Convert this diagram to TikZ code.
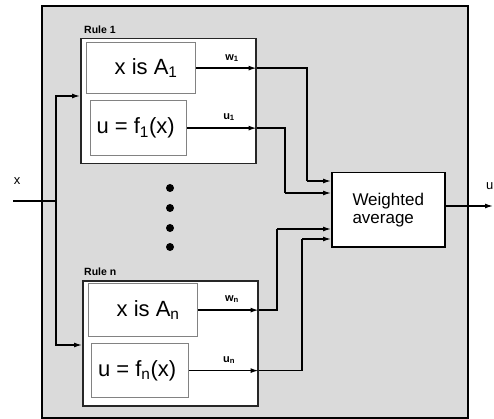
\documentclass[tikz,border=0pt]{standalone}
\usepackage{fontspec}
\setmainfont{Liberation Sans}
\usetikzlibrary{arrows.meta}
\definecolor{bggray}{RGB}{218,218,218}
\definecolor{boxgray}{RGB}{130,130,130}
\tikzset{
  outerbox/.style={draw=black, line width=2pt, fill=bggray, inner sep=0pt, anchor=north west},
  rulebox/.style={draw=black!85, line width=1.5pt, fill=white, inner sep=0pt, anchor=north west},
  innerbox/.style={draw=boxgray, line width=1.2pt, fill=white, inner sep=0pt, anchor=north west, font=\fontsize{22}{24}\selectfont},
  wabox/.style={draw=black, line width=1.5pt, fill=white, inner sep=0pt, anchor=north west, align=left, font=\fontsize{17}{18}\selectfont},
  sig/.style={font=\fontsize{11}{12}\selectfont\bfseries, inner sep=0pt},
  rulelbl/.style={font=\fontsize{10.5}{12}\selectfont\bfseries, inner sep=0pt, anchor=south west},
  arr/.style={line width=1.3pt, -{Latex[length=8pt,width=5pt]}},
  wire/.style={line width=1.3pt},
  dot/.style={circle, fill=black, inner sep=0pt, minimum size=8pt}
}
\begin{document}
\begin{tikzpicture}[x=1pt,y=-1pt]
\useasboundingbox (0,0) rectangle (494,419);
% outer box
\node[outerbox, minimum width=426pt, minimum height=412pt] (outer) at (41,5) {};
% rule 1
\node[rulebox, minimum width=175pt, minimum height=125pt] (r1) at (80,38) {};
\node[rulelbl] (r1l) at (84,34) {Rule 1};
\node[innerbox, minimum width=109pt, minimum height=51pt] (a1) at (86,42) {\hspace*{10pt}x is A\textsubscript{1}};
\node[innerbox, minimum width=96pt, minimum height=55pt] (f1) at (90,100) {u = f\textsubscript{1}(x)\hspace*{6pt}};
% rule n
\node[rulebox, minimum width=175pt, minimum height=125pt] (rn) at (82,280) {};
\node[rulelbl] (rnl) at (84,276) {Rule n};
\node[innerbox, minimum width=109pt, minimum height=53pt] (an) at (88,283) {\hspace*{10pt}x is A\textsubscript{n}};
\node[innerbox, minimum width=97pt, minimum height=54pt] (fn) at (91,343) {u = f\textsubscript{n}(x)\hspace*{6pt}};
% weighted average
\node[wabox, minimum width=113pt, minimum height=74pt] (wa) at (331,172) {Weighted\\average};
% dots
\node[dot] (d1) at (170,188) {};
\node[dot] (d2) at (170,208) {};
\node[dot] (d3) at (170,228) {};
\node[dot] (d4) at (170,247) {};
% input
\node[font=\fontsize{13}{14}\selectfont, inner sep=0pt] (xl) at (17,181) {x};
\coordinate (xin) at (13,201);
\coordinate (split) at (56,201);
\coordinate (j1) at (56,96);
\coordinate (jn) at (56,345);
\draw[wire] (xin) -- (split);
\draw[arr] (split) |- (r1.west |- j1);
\draw[arr] (split) |- (rn.west |- jn);
% outputs of rule 1
\draw[arr] (a1.east) -- (a1.east -| r1.east);
\draw[arr] (f1.east) -- (f1.east -| r1.east);
\node[sig] (w1l) at (232,58) {w\textsubscript{1}};
\node[sig] (u1l) at (229,117) {u\textsubscript{1}};
% outputs of rule n
\draw[arr] (an.east) -- (an.east -| rn.east);
\draw[arr] (fn.east) -- (fn.east -| rn.east);
\node[sig] (wnl) at (232,299) {w\textsubscript{n}};
\node[sig] (unl) at (229,360) {u\textsubscript{n}};
% routing to weighted average
\coordinate (b1) at (307,181);
\coordinate (b2) at (285,193);
\coordinate (b3) at (277,229);
\coordinate (b4) at (302,239);
\draw[wire] (a1.east -| r1.east) -| (b1);
\draw[arr] (b1) -- (b1 -| wa.west);
\draw[wire] (f1.east -| r1.east) -| (b2);
\draw[arr] (b2) -- (b2 -| wa.west);
\draw[wire] (an.east -| rn.east) -| (b3);
\draw[arr] (b3) -- (b3 -| wa.west);
\draw[wire] (fn.east -| rn.east) -| (b4);
\draw[arr] (b4) -- (b4 -| wa.west);
% output
\coordinate (out) at (493,206);
\draw[arr] (wa.east |- out) -- (out);
\node[font=\fontsize{13}{14}\selectfont, inner sep=0pt, anchor=west] (ul) at (486,186) {u};
\end{tikzpicture}
\end{document}
